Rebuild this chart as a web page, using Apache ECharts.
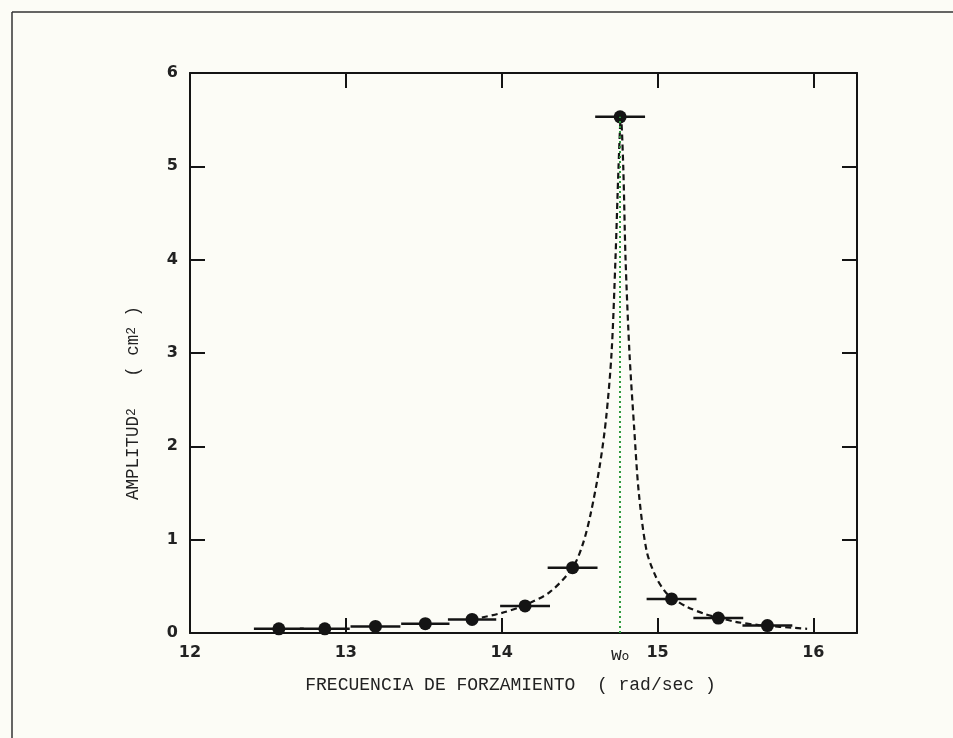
<!DOCTYPE html>
<html><head><meta charset="utf-8">
<script src="https://cdn.jsdelivr.net/npm/echarts@6/dist/echarts.min.js"></script>
<style>html,body{margin:0;padding:0;background:#fcfcf6}#c{width:953px;height:738px}</style>
</head><body><div id="c"></div>
<script>
// Measured points (forcing frequency, amplitude^2) with horizontal error bars
const freq    = [12.57, 12.865, 13.19, 13.51, 13.81, 14.15, 14.455, 14.76, 15.09, 15.39, 15.705];
const amp2    = [0.045, 0.045, 0.07, 0.10, 0.145, 0.29, 0.70, 5.53, 0.365, 0.16, 0.08];
const freqErr = [0.16, 0.16, 0.16, 0.155, 0.155, 0.16, 0.16, 0.16, 0.16, 0.16, 0.16];
// Dashed resonance curve
const curveFreq = [13.81, 13.99, 14.15, 14.31, 14.455, 14.52, 14.57, 14.63, 14.67, 14.705, 14.73, 14.75, 14.765, 14.78, 14.795, 14.82, 14.85, 14.88, 14.93, 14.99, 15.05, 15.09, 15.19, 15.31, 15.39, 15.5, 15.65, 15.96];
const curveAmp2 = [0.145, 0.21, 0.30, 0.44, 0.70, 0.95, 1.27, 1.8, 2.3, 3.0, 4.0, 5.0, 5.53, 5.0, 4.0, 3.0, 2.2, 1.5, 0.88, 0.6, 0.44, 0.38, 0.28, 0.20, 0.165, 0.12, 0.085, 0.045];
const w0 = 14.76;
const xTicks = [12, 13, 14, 15, 16];
const yTicks = [0, 1, 2, 3, 4, 5, 6];

const ink = '#141414';
const axisLine = {show: true, onZero: false, lineStyle: {color: ink, width: 2}};
const axisTick = {show: true, inside: true, length: 15, lineStyle: {color: ink, width: 2}};
const tickFont = {fontFamily: 'DejaVu Sans', fontWeight: 'bold', fontSize: 16, color: '#222'};

const chart = echarts.init(document.getElementById('c'), null, {renderer: 'canvas'});
chart.setOption({
  backgroundColor: '#fcfcf6',
  animation: false,
  grid: {left: 190, right: 96, top: 73, bottom: 105, containLabel: false},
  graphic: [
    {type: 'line', shape: {x1: 12, y1: 12, x2: 953, y2: 12}, style: {stroke: '#333', lineWidth: 1.5}},
    {type: 'line', shape: {x1: 12, y1: 12, x2: 12, y2: 738}, style: {stroke: '#333', lineWidth: 1.5}}
  ],
  xAxis: [{
    type: 'value', min: xTicks[0], max: 16.28, interval: 1, position: 'bottom',
    axisLine, axisTick, splitLine: {show: false},
    axisLabel: Object.assign({margin: 12, showMaxLabel: false,
      formatter: v => xTicks.includes(v) ? String(v) : ''}, tickFont),
    name: 'FRECUENCIA DE FORZAMIENTO  ( rad/sec )', nameLocation: 'middle', nameGap: 43,
    nameTextStyle: {fontFamily: 'Liberation Mono', fontSize: 18, color: '#222', padding: [0, 26, 0, 0]}
  }, {
    type: 'value', min: xTicks[0], max: 16.28, interval: 1, position: 'top',
    axisLine, axisTick, splitLine: {show: false}, axisLabel: {show: false}
  }],
  yAxis: [{
    type: 'value', min: yTicks[0], max: yTicks[yTicks.length - 1], interval: 1, position: 'left',
    axisLine, axisTick, splitLine: {show: false},
    axisLabel: Object.assign({margin: 12, formatter: v => yTicks.includes(v) ? String(v) : ''}, tickFont),
    name: '{t|AMPLITUD}{sup|2}{t|   ( cm}{sup|2}{t| )}', nameLocation: 'middle', nameGap: 48,
    nameTextStyle: {
      color: '#222', padding: [0, 100, 0, 0],
      rich: {
        t: {fontFamily: 'Liberation Mono', fontSize: 17.5, lineHeight: 17, verticalAlign: 'bottom', color: '#222'},
        sup: {fontFamily: 'Liberation Mono', fontSize: 13, lineHeight: 13, verticalAlign: 'top', padding: [0, 0, 8, 0], color: '#222'}
      }
    }
  }, {
    type: 'value', min: yTicks[0], max: yTicks[yTicks.length - 1], interval: 1, position: 'right',
    axisLine, axisTick, splitLine: {show: false}, axisLabel: {show: false}
  }],
  series: [{
    type: 'line', name: 'curve', xAxisIndex: 0, yAxisIndex: 0,
    data: curveFreq.map((f, i) => [f, curveAmp2[i]]),
    showSymbol: false, smooth: 0.3,
    lineStyle: {color: ink, width: 2.2, type: [6, 4]}, z: 2,
    markLine: {
      silent: true, symbol: 'none',
      lineStyle: {color: '#2e9a3e', width: 2, type: [2, 3]},
      label: {
        show: true, position: 'start', distance: 13, formatter: '{w|w}{s|o}',
        rich: {
          w: {fontFamily: 'Liberation Mono', fontSize: 18, lineHeight: 17, verticalAlign: 'top', color: '#222'},
          s: {fontFamily: 'DejaVu Sans', fontSize: 12, lineHeight: 12, verticalAlign: 'bottom', padding: [6, 0, 0, 0], color: '#222'}
        }
      },
      data: [[{coord: [w0, 0]}, {coord: [w0, amp2[7]]}]]
    }
  }, {
    type: 'custom', name: 'xerr', xAxisIndex: 0, yAxisIndex: 0,
    renderItem: (params, api) => {
      const x = api.value(0), y = api.value(1), e = api.value(2);
      const a = api.coord([x - e, y]), b = api.coord([x + e, y]);
      return {type: 'line', shape: {x1: a[0], y1: a[1], x2: b[0], y2: b[1]},
              style: {stroke: ink, lineWidth: 2.5}};
    },
    encode: {x: 0, y: 1},
    data: freq.map((f, i) => [f, amp2[i], freqErr[i]]), z: 3
  }, {
    type: 'scatter', name: 'points', xAxisIndex: 0, yAxisIndex: 0,
    data: freq.map((f, i) => [f, amp2[i]]),
    symbol: 'circle', symbolSize: 13, itemStyle: {color: ink, opacity: 1}, z: 4
  }]
});
</script></body></html>
